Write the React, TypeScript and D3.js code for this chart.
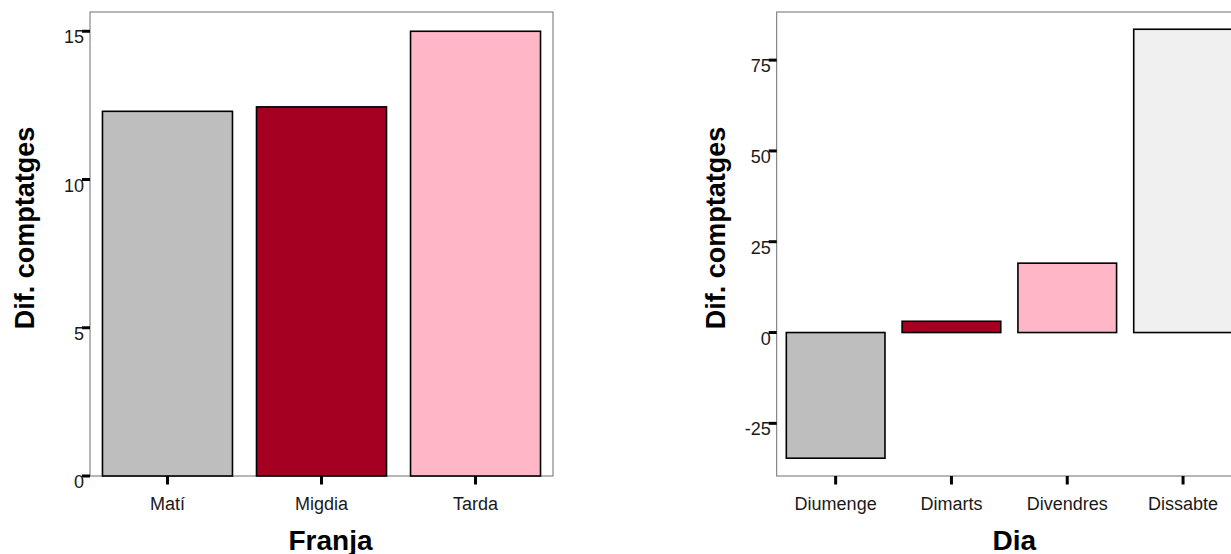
import React from "react";
import * as d3 from "d3";

const franjaCats = ["Matí", "Migdia", "Tarda"];
const franjaVals = [12.3, 12.45, 15.0];
const franjaTicks = [0, 5, 10, 15];

const diaCats = ["Diumenge", "Dimarts", "Divendres", "Dissabte"];
const diaVals = [-34.6, 3.1, 19.1, 83.5];
const diaTicks = [-25, 0, 25, 50, 75];

const colors = ["#bebebe", "#a50021", "#ffb6c6", "#f0f0f0"];

const FONT = "'Liberation Sans', Arial, Helvetica, sans-serif";

type PanelProps = {
  cats: string[];
  vals: number[];
  ticks: number[];
  yDomain: [number, number];
  x0: number;
  x1: number;
  pi: number;
  po: number;
  xTitle: string;
  xTitleDx: number;
  yTitleX: number;
};

function Panel({ cats, vals, ticks, yDomain, x0, x1, pi, po, xTitle, xTitleDx, yTitleX }: PanelProps) {
  const top = 12;
  const bottom = 476;
  const x = d3.scaleBand<string>().domain(cats).range([x0, x1]).paddingInner(pi).paddingOuter(po);
  const y = d3.scaleLinear().domain(yDomain).range([bottom, top]);
  const y0 = y(Math.max(0, yDomain[0]));
  return (
    <g>
      <rect x={x0} y={top} width={x1 - x0} height={bottom - top} fill="none" stroke="#6e6e6e" strokeWidth={1} />
      {cats.map((c, i) => {
        const v = vals[i];
        const yt = y(Math.max(0, v));
        const yb = y(Math.min(0, v));
        return (
          <rect key={c} x={x(c)} y={yt} width={x.bandwidth()} height={yb - yt}
            fill={colors[i]} stroke="#000" strokeWidth={1.6} />
        );
      })}
      {ticks.map((t) => (
        <g key={t}>
          <line x1={x0 - 8} x2={x0} y1={y(t)} y2={y(t)} stroke="#000" strokeWidth={3} />
          <text x={x0 - 6} y={y(t) + 12} textAnchor="end" fontFamily={FONT} fontSize={18} fill="#1a1a1a">{t}</text>
        </g>
      ))}
      {cats.map((c) => {
        const cx = (x(c) as number) + x.bandwidth() / 2;
        return (
          <g key={c}>
            <line x1={cx} x2={cx} y1={bottom} y2={bottom + 8.5} stroke="#000" strokeWidth={3} />
            <text x={cx} y={509.5} textAnchor="middle" fontFamily={FONT} fontSize={18} fill="#1a1a1a">{c}</text>
          </g>
        );
      })}
      <text x={(x0 + Math.min(x1, 1242)) / 2 + xTitleDx} y={549.5} textAnchor="middle" fontFamily={FONT}
        fontSize={28} fontWeight="bold" fill="#000">{xTitle}</text>
      <text transform={`translate(${yTitleX},228) rotate(-90)`} textAnchor="middle" fontFamily={FONT}
        fontSize={27} fontWeight="bold" fill="#000">Dif. comptatges</text>
    </g>
  );
}

export default function App() {
  return (
    <svg width={1231} height={554} style={{ position: "absolute", left: 0, top: 0, background: "#fff" }}>
      <rect width={1231} height={554} fill="#fff" />
      <Panel cats={franjaCats} vals={franjaVals} ticks={franjaTicks} yDomain={[0, 15.65]}
        x0={90} x1={553} pi={0.156} po={0.081} xTitle="Franja" xTitleDx={9} yTitleX={34} />
      <Panel cats={diaCats} vals={diaVals} ticks={diaTicks} yDomain={[-39.5, 88.25]}
        x0={776.7} x1={1242} pi={0.148} po={0.083} xTitle="Dia" xTitleDx={5} yTitleX={725} />
    </svg>
  );
}
